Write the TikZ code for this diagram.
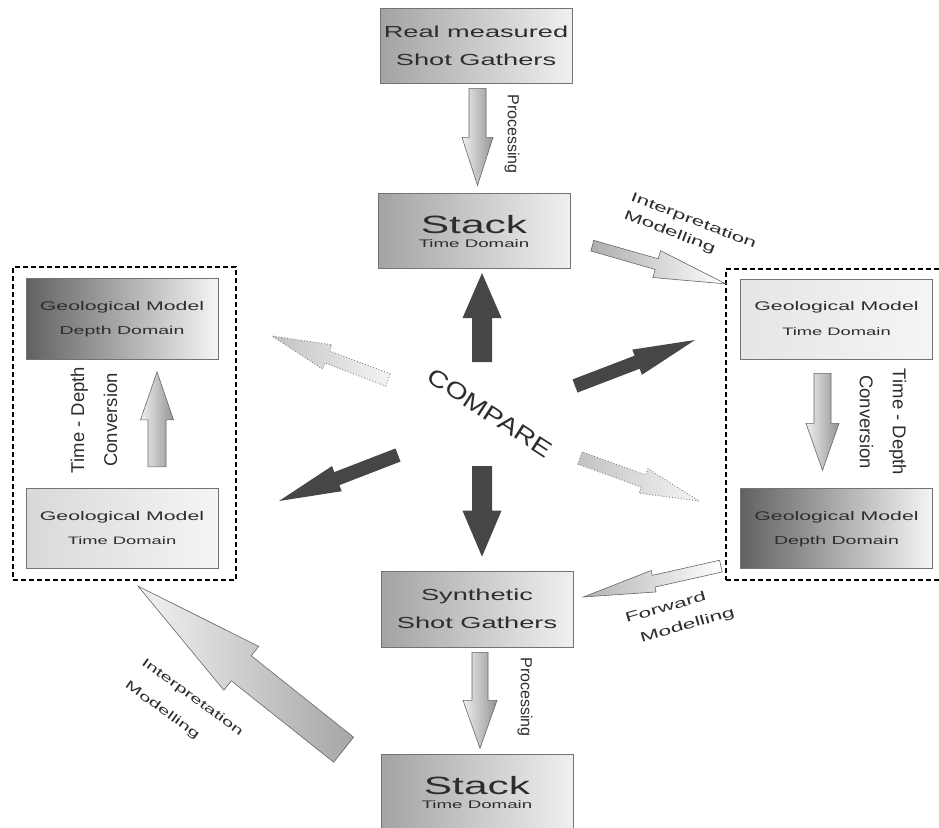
\documentclass[tikz,border=0pt]{standalone}
\usepackage{fontspec}
\setmainfont{Liberation Sans}
\newfontfamily\widefont[FakeStretch=1.7]{Liberation Sans}
\newfontfamily\midfont[FakeStretch=1.25]{Liberation Sans}
\usetikzlibrary{calc, positioning}
\definecolor{compgray}{RGB}{70,70,70}
\definecolor{txtgray}{RGB}{45,45,45}
\tikzstyle{gatherbox} = [rectangle, minimum width=192pt, minimum height=75pt, align=center, draw=black!55, line width=0.7pt, left color=black!36, right color=black!6, text=txtgray]
\tikzstyle{depthbox} = [gatherbox, minimum height=81pt, left color=black!62, right color=black!4]
\tikzstyle{timebox} = [gatherbox, minimum height=80pt, left color=black!15, right color=black!4]
\tikzstyle{dashframe} = [rectangle, draw=black, dash pattern=on 5pt off 3pt, line width=2.2pt]
\tikzstyle{darkarrow} = [fill=compgray]
\tikzstyle{lightarrow} = [draw=black!60, line width=0.6pt, left color=black!6, right color=black!42]
\tikzstyle{ghostarrow} = [draw=black!50, dotted, line width=0.9pt, left color=black!24, right color=black!4]
\tikzstyle{arrowtext} = [text=txtgray, inner sep=0pt]

% block arrow: [style]{from}{to}{shaft half width}{head half width}{head length}
\newcommand{\fatarrow}[6][]{%
  \path (#2) coordinate (fa-a) (#3) coordinate (fa-b);
  \pgfpointdiff{\pgfpointanchor{fa-a}{center}}{\pgfpointanchor{fa-b}{center}}%
  \pgfgetlastxy{\fadx}{\fady}%
  \pgfmathsetmacro{\faang}{atan2(\fady,\fadx)}%
  \pgfmathsetmacro{\falen}{veclen(\fadx,\fady)}%
  \pgfmathsetmacro{\fabase}{\falen-#6}%
  \path[#1, shift={(fa-a)}, rotate=\faang]
    (0pt,-#4pt) -- (\fabase pt,-#4pt) -- (\fabase pt,-#5pt) -- (\falen pt,0pt)
    -- (\fabase pt,#5pt) -- (\fabase pt,#4pt) -- (0pt,#4pt) -- cycle;
}

\begin{document}
\begin{tikzpicture}[x=1pt, y=-1pt]
  \useasboundingbox (0,0) rectangle (939,827);
  \clip (0,0) rectangle (939,827);

  \node (lframe) [dashframe, minimum width=223pt, minimum height=313pt] at (124.5,423.5) {};
  \node (rframe) [dashframe, minimum width=219pt, minimum height=311pt] at (835.5,424.5) {};

  \node (real) [gatherbox, font=\widefont\fontsize{16}{28}\selectfont] at (476,45.5) {Real measured\\Shot Gathers};
  \node (stacktop) [gatherbox, below=110pt of real, xshift=-2pt, font=\widefont\fontsize{11}{14}\selectfont] {{\fontsize{25}{25}\selectfont Stack}\\Time Domain};
  \node (synth) [gatherbox, minimum height=76pt, font=\widefont\fontsize{16}{28}\selectfont] at (477,609) {Synthetic\\Shot Gathers};
  \node (stackbot) [gatherbox, below=107pt of synth, font=\widefont\fontsize{11}{14}\selectfont] {{\fontsize{25}{25}\selectfont Stack}\\Time Domain};

  \node (leftdepth) [depthbox, font=\widefont\fontsize{11.5}{24}\selectfont] at (122,319) {{\fontsize{12.5}{14}\selectfont Geological Model}\\Depth Domain};
  \node (lefttime) [timebox, below=128pt of leftdepth, font=\widefont\fontsize{10.8}{24}\selectfont] {{\fontsize{12.5}{14}\selectfont Geological Model}\\Time Domain};
  \node (righttime) [timebox, left color=black!10, font=\widefont\fontsize{10.8}{25}\selectfont] at (836.5,319) {{\fontsize{12.5}{14}\selectfont Geological Model}\\Time Domain};
  \node (rightdepth) [depthbox, minimum height=80pt, below=129pt of righttime, font=\widefont\fontsize{11.5}{24}\selectfont] {{\fontsize{12.5}{14}\selectfont Geological Model}\\Depth Domain};

  \node (compare) [arrowtext, rotate=-33, font=\midfont\fontsize{23}{23}\selectfont] at (490,413) {COMPARE};
  \node (procA) [arrowtext, rotate=-90, font=\fontsize{16}{18}\selectfont] at (512,134) {Processing};
  \node (procB) [arrowtext, rotate=-90, font=\fontsize{16}{18}\selectfont] at (525,697) {Processing};
  \node (tdleft) [arrowtext, rotate=90, align=center, font=\fontsize{18.5}{33}\selectfont] at (94,420) {Time - Depth\\Conversion};
  \node (tdright) [arrowtext, rotate=-90, align=center, font=\fontsize{18.5}{33}\selectfont] at (883,422) {Time - Depth\\Conversion};
  \node (interpA) [arrowtext, rotate=-21, align=left, font=\widefont\fontsize{13.3}{19}\selectfont] at (690,230) {Interpretation\\Modelling};
  \node (interpB) [arrowtext, rotate=-36, align=left, font=\widefont\fontsize{12.2}{28}\selectfont] at (184,709) {Interpretation\\Modelling};
  \node (fwd) [arrowtext, rotate=16, align=left, font=\widefont\fontsize{13.4}{23}\selectfont] at (680,616) {Forward\\\hspace*{9pt}Modelling};

  \fatarrow[lightarrow]{$(real.south)+(1.5,5)$}{$(stacktop.north)+(3.5,-8)$}{8.5}{15.5}{48}
  \fatarrow[lightarrow]{$(synth.south)+(3,5)$}{$(stackbot.north)+(3,-6)$}{8}{17}{48}
  \fatarrow[lightarrow]{$(lefttime.north)+(35,-21)$}{$(leftdepth.south)+(35,12)$}{9}{16.5}{48}
  \fatarrow[lightarrow]{$(righttime.south)+(-14,14)$}{$(rightdepth.north)+(-14,-18)$}{8.5}{16.5}{47}
  \fatarrow[lightarrow, left color=black!32, right color=white]{$(stacktop.east)+(22,14.5)$}{$(rframe.north west)+(1,16)$}{5.5}{14}{72}
  \fatarrow[lightarrow, left color=black!30, right color=white]{$(rframe.south west)+(-4,-15)$}{$(synth.east)+(10,-12)$}{6}{11}{72}
  \fatarrow[lightarrow, left color=black!5, right color=black!35]{$(stackbot.west)+(-37,-42.5)$}{$(lframe.south)+(13.5,5)$}{16}{28}{132}

  \fatarrow[darkarrow]{$(compare)+(-8,-51)$}{$(stacktop.south)+(8,4)$}{10}{19.5}{45}
  \fatarrow[darkarrow]{$(compare)+(-8,53)$}{$(synth.north)+(5,-14)$}{10}{19.5}{46}
  \fatarrow[darkarrow]{$(compare)+(85,-27)$}{$(compare)+(205,-73)$}{7}{13.5}{62}
  \fatarrow[darkarrow]{$(compare)+(-92,42)$}{$(compare)+(-211,88)$}{7}{13.5}{62}
  \fatarrow[ghostarrow]{$(compare)+(-102,-33)$}{$(compare)+(-218,-77)$}{6.5}{13}{59}
  \fatarrow[ghostarrow]{$(compare)+(90,45)$}{$(compare)+(209,88)$}{6.5}{13}{59}

\end{tikzpicture}
\end{document}
